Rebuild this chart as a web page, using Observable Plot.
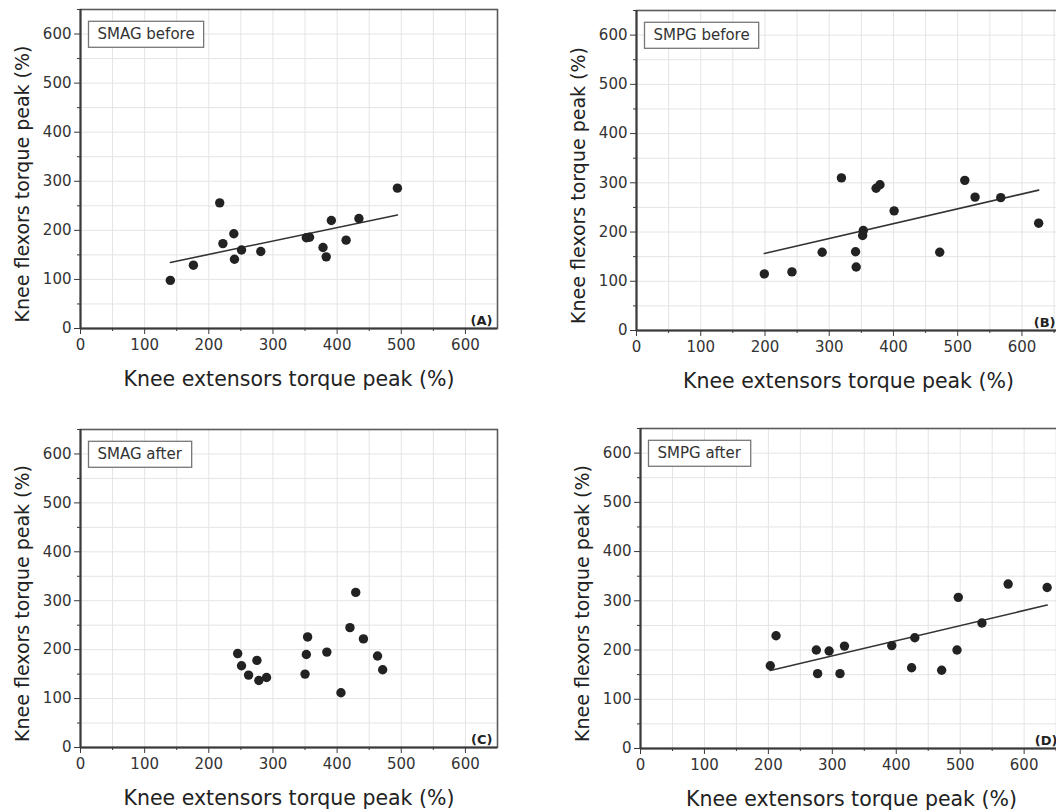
<!DOCTYPE html>
<html><head><meta charset="utf-8">
<script src="https://cdn.jsdelivr.net/npm/d3@7"></script>
<script src="https://cdn.jsdelivr.net/npm/@observablehq/plot@0.6"></script>
<style>
body{margin:0;background:#fff}
#wrap{position:relative;width:1056px;height:812px;overflow:hidden;background:#fff}
.panel{position:absolute}
.panel svg{max-width:none !important}
</style></head><body><div id="wrap"></div>
<script>
// ---- data ----
const xTitle = "Knee extensors torque peak (%)";
const yTitle = "Knee flexors torque peak (%)";
const majorTicks = [0, 100, 200, 300, 400, 500, 600];
const minorTicks = [50, 150, 250, 350, 450, 550, 650];
const gridLines = [50, 100, 150, 200, 250, 300, 350, 400, 450, 500, 550, 600, 650];

const smagBeforeExt  = [140, 176, 217, 222, 239, 240, 251, 281, 352, 357, 378, 383, 391, 414, 434, 494];
const smagBeforeFlex = [ 98, 129, 256, 173, 193, 141, 160, 157, 185, 186, 165, 146, 220, 180, 224, 286];

const smpgBeforeExt  = [199, 242, 289, 319, 341, 342, 352, 353, 373, 379, 401, 472, 511, 527, 567, 626];
const smpgBeforeFlex = [115, 119, 159, 310, 160, 129, 193, 203, 289, 296, 243, 159, 305, 271, 270, 218];

const smagAfterExt   = [245, 251, 262, 275, 278, 290, 350, 352, 354, 384, 406, 420, 429, 441, 463, 471];
const smagAfterFlex  = [192, 167, 148, 178, 137, 143, 150, 190, 226, 195, 112, 245, 317, 222, 187, 159];

const smpgAfterExt   = [203, 212, 275, 277, 295, 312, 319, 393, 424, 429, 471, 495, 497, 534, 575, 636];
const smpgAfterFlex  = [168, 229, 200, 152, 198, 152, 208, 209, 164, 225, 159, 200, 307, 255, 334, 327];

const panelNames   = ["SMAG before", "SMPG before", "SMAG after", "SMPG after"];
const panelLetters = ["(A)", "(B)", "(C)", "(D)"];
const panelExt  = [smagBeforeExt, smpgBeforeExt, smagAfterExt, smpgAfterExt];
const panelFlex = [smagBeforeFlex, smpgBeforeFlex, smagAfterFlex, smpgAfterFlex];
const panelFit  = [true, true, false, true];

// ---- layout ----
const layout = [
  {left: 0,   top: 0,   width: 528, height: 406, mL: 80,  mT: 9,  mR: 31, mB: 78, xMax: 650},
  {left: 528, top: 0,   width: 560, height: 406, mL: 108, mT: 10, mR: 28, mB: 76, xMax: 660},
  {left: 0,   top: 406, width: 528, height: 406, mL: 80,  mT: 23, mR: 31, mB: 65, xMax: 650},
  {left: 528, top: 406, width: 560, height: 406, mL: 112, mT: 22, mR: 26, mB: 64, xMax: 660}
];

const wrap = document.getElementById("wrap");

panelNames.forEach((name, i) => {
  const L = layout[i];
  const data = panelExt[i].map((e, j) => ({ext: e, flex: panelFlex[i][j]}));
  const marks = [
    Plot.gridX(gridLines, {stroke: "#e4e4e4", strokeOpacity: 1}),
    Plot.gridY(gridLines, {stroke: "#e4e4e4", strokeOpacity: 1}),
    Plot.frame({stroke: "#5a5a5a", strokeWidth: 1.6}),
    Plot.ruleX([0], {stroke: "#3a3a3a", strokeWidth: 2}),
    Plot.ruleY([0], {stroke: "#3a3a3a", strokeWidth: 2}),
    Plot.axisX({ticks: majorTicks, tickSize: 6, tickPadding: 5, stroke: "#3a3a3a", fill: "#333", fontSize: 15, label: null}),
    Plot.axisX({ticks: minorTicks.filter(t => t < L.xMax), tickSize: 3, tickFormat: () => "", stroke: "#3a3a3a", label: null}),
    Plot.axisY({ticks: majorTicks, tickSize: 6, tickPadding: 3, stroke: "#3a3a3a", fill: "#333", fontSize: 15, label: null}),
    Plot.axisY({ticks: minorTicks, tickSize: 3, tickFormat: () => "", stroke: "#3a3a3a", label: null}),
  ];
  if (panelFit[i]) {
    marks.push(Plot.linearRegressionY(data, {x: "ext", y: "flex", ci: 0, stroke: "#333", strokeWidth: 1.6}));
  }
  marks.push(
    Plot.dot(data, {x: "ext", y: "flex", r: 4.7, fill: "#222", stroke: "none"}),
    Plot.text([name], {frameAnchor: "top-left", textAnchor: "start", lineAnchor: "middle", dx: 17, dy: 25, fontSize: 15, fill: "#333"}),
    Plot.text([panelLetters[i]], {frameAnchor: "bottom-right", textAnchor: "end", lineAnchor: "bottom", dx: -5, dy: -4, fontSize: 13, fontWeight: "bold", fill: "#222"}),
    Plot.text([xTitle], {frameAnchor: "bottom", textAnchor: "middle", lineAnchor: "middle", dy: 51, fontSize: 20.5, fill: "#222"}),
    Plot.text([yTitle], {frameAnchor: "left", textAnchor: "middle", lineAnchor: "middle", rotate: -90, dx: -58, dy: 15, fontSize: 19, fill: "#222"})
  );
  const chart = Plot.plot({
    width: L.width, height: L.height,
    marginLeft: L.mL, marginRight: L.mR, marginTop: L.mT, marginBottom: L.mB,
    x: {domain: [0, L.xMax]},
    y: {domain: [0, 650]},
    style: {fontFamily: "DejaVu Sans", fontSize: "15px", color: "#333", background: "transparent", overflow: "visible", maxWidth: "none"},
    marks
  });
  const div = document.createElement("div");
  div.className = "panel";
  div.style.left = L.left + "px";
  div.style.top = L.top + "px";
  div.style.width = L.width + "px";
  div.style.height = L.height + "px";
  div.appendChild(chart);
  wrap.appendChild(div);
  // box around the group label
  d3.select(chart).selectAll("text").each(function() {
    if (this.textContent === name) {
      const b = this.getBBox();
      const parent = this.parentNode;
      const r = document.createElementNS("http://www.w3.org/2000/svg", "rect");
      r.setAttribute("x", b.x - 9);
      r.setAttribute("y", b.y - 4);
      r.setAttribute("width", b.width + 18);
      r.setAttribute("height", b.height + 8);
      r.setAttribute("fill", "#fff");
      r.setAttribute("stroke", "#777");
      r.setAttribute("stroke-width", "1.3");
      const t = this.getAttribute("transform");
      if (t) r.setAttribute("transform", t);
      parent.insertBefore(r, this);
    }
  });
});
</script>
</body></html>
